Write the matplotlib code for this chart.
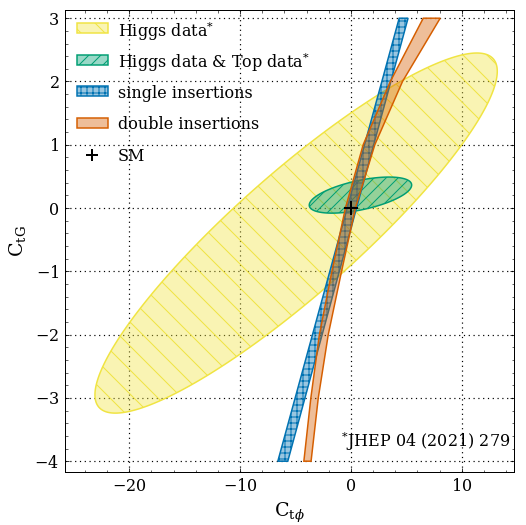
import matplotlib

matplotlib.use("Agg")

import matplotlib.pyplot as plt
import numpy as np
from matplotlib.patches import Polygon, Rectangle

# Higgs-only ellipse: centre, half-extents along x / y, phase between them
higgs_center = (-4.95, -0.395)
higgs_half = (18.15, 2.845)
higgs_phase = 0.455

# Higgs + top ellipse
top_center = (0.855, 0.205)
top_half = (4.62, 0.285)
top_phase = 0.98

# single insertions band: straight, edges at y = -4 and y = 3
single_y = [-4.0, 3.0]
single_left = [-6.6, 4.35]
single_right = [-5.7, 5.15]

# double insertions band: curved, edges read at integer y
double_y = [-4.0, -3.0, -2.0, -1.0, 0.0, 1.0, 2.0, 3.0]
double_left = [-4.25, -3.62, -2.85, -1.72, -0.5, 1.1, 3.55, 6.52]
double_right = [-3.6, -2.95, -2.05, -0.85, 0.4, 2.15, 4.65, 8.05]

sm_point = (0.0, 0.0)

legend_labels = [
    r"Higgs data$^{*}$",
    r"Higgs data & Top data$^{*}$",
    "single insertions",
    "double insertions",
    "SM",
]

plt.rcParams.update({
    "font.family": "serif",
    "font.serif": ["DejaVu Serif"],
    "mathtext.fontset": "dejavuserif",
    "axes.formatter.use_mathtext": True,
    "font.size": 16,
    "hatch.linewidth": 1.0,
    "xtick.direction": "in",
    "ytick.direction": "in",
    "xtick.top": True,
    "ytick.right": True,
    "xtick.minor.visible": True,
    "ytick.minor.visible": True,
    "xtick.major.size": 4,
    "ytick.major.size": 4,
    "xtick.minor.size": 2.5,
    "ytick.minor.size": 2.5,
    "axes.linewidth": 1.0,
})

YELLOW = "#f0e442"
GREEN = "#009e73"
BLUE = "#0072b2"
ORANGE = "#d55e00"


def ellipse_xy(center, half, phase, n=400):
    t = np.linspace(0, 2 * np.pi, n)
    x = center[0] + half[0] * np.cos(t)
    y = center[1] + half[1] * np.cos(t - phase)
    return np.column_stack([x, y])


def band_xy(y, left, right):
    pts_l = np.column_stack([left, y])
    pts_r = np.column_stack([right, y])[::-1]
    return np.vstack([pts_l, pts_r])


def fill_rgba(color, alpha=0.4):
    r, g, b = matplotlib.colors.to_rgb(color)
    return (r, g, b, alpha)


styles = [
    dict(facecolor=fill_rgba(YELLOW), edgecolor=YELLOW, hatch="\\"),
    dict(facecolor=fill_rgba(GREEN), edgecolor=GREEN, hatch="//"),
    dict(facecolor=fill_rgba(BLUE), edgecolor=BLUE, hatch="++"),
    dict(facecolor=fill_rgba(ORANGE), edgecolor=ORANGE),
]

fig = plt.figure(figsize=(526 / 72, 525 / 72), dpi=72)
ax = fig.add_axes([0.1236, 0.101, 0.8534, 0.880])

shapes = [
    ellipse_xy(higgs_center, higgs_half, higgs_phase),
    ellipse_xy(top_center, top_half, top_phase),
    band_xy(single_y, single_left, single_right),
    band_xy(double_y, double_left, double_right),
]
for i, (pts, st) in enumerate(zip(shapes, styles)):
    ax.add_patch(Polygon(pts, closed=True, lw=1.5, zorder=2 + i, **st))
ax.plot(*sm_point, marker="+", color="black", ms=14, mew=2, ls="none", zorder=6)

ax.set_xlim(-25.8, 14.7)
ax.set_ylim(-4.17, 3.13)
ax.set_xticks([-20, -10, 0, 10])
ax.set_yticks(range(-4, 4))
ax.xaxis.set_minor_locator(matplotlib.ticker.MultipleLocator(2))
ax.yaxis.set_minor_locator(matplotlib.ticker.MultipleLocator(0.2))
ax.tick_params(which="major", pad=6)
ax.set_axisbelow(True)
ax.grid(True, which="major", color="black", ls=(0, (1, 3)), lw=1.2)

ax.set_xlabel(r"$\mathrm{C}_{\mathrm{t}\phi}$", fontsize=19, labelpad=6)
ax.set_ylabel(r"$\mathrm{C}_{\mathrm{tG}}$", fontsize=19, labelpad=6)

# legend drawn by hand so the rows stay evenly spaced
row_y = 0.961
for i, label in enumerate(legend_labels):
    y = row_y - 0.0685 * i
    if i < len(styles):
        ax.add_patch(Rectangle((0.027, y - 0.011), 0.069, 0.022,
                               transform=ax.transAxes, lw=1.5, zorder=7,
                               **styles[i]))
    else:
        ax.plot([0.061], [y], transform=ax.transAxes, marker="+",
                color="black", ms=12, mew=2, ls="none", zorder=7)
    ax.text(0.118, y, label, transform=ax.transAxes, ha="left",
            va="center_baseline", fontsize=16, zorder=7)

ax.text(0.993, 0.04, r"$^{*}$JHEP 04 (2021) 279", transform=ax.transAxes,
        ha="right", va="bottom", fontsize=16)

fig.savefig("out.png", dpi=72)
